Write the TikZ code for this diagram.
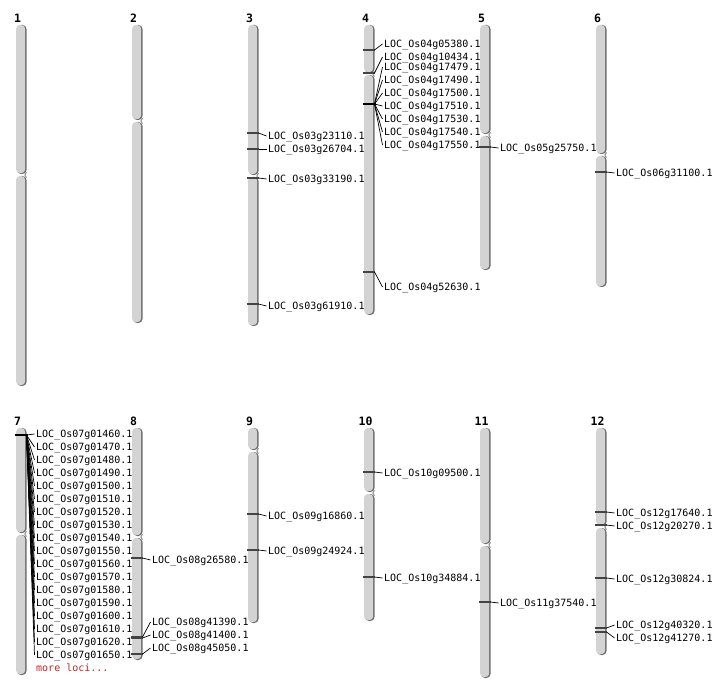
\documentclass[tikz,border=0pt]{standalone}
\usepackage{fontspec}
\newfontfamily\monofont{DejaVu Sans Mono}
\definecolor{chrbody}{HTML}{D3D3D3}
\definecolor{chrshade}{HTML}{6E6E6E}
\definecolor{mkcol}{HTML}{444444}
\definecolor{morered}{HTML}{CC2222}
\tikzset{
  lbl/.style={font=\monofont\fontsize{10}{12}\selectfont, inner sep=0pt, anchor=west, text height=7.3pt, text depth=0pt},
  chrnum/.style={font=\monofont\bfseries\fontsize{11.5}{13}\selectfont, inner sep=0pt, anchor=base},
  markline/.style={draw=mkcol, line width=1.3pt},
  markthick/.style={draw=black, line width=2.6pt},
  conn/.style={draw=black, line width=0.7pt},
}
\newcommand\arm[3]{%
  \fill[chrshade,rounded corners=4pt] (#1+1,#2) rectangle (#1+10.5,#3);
  \fill[chrbody,rounded corners=4pt] (#1,#2) rectangle (#1+9.2,#3-0.8);
}
\newcommand\chr[6]{% number, x, top, cen, bottom, baseline of number
  \arm{#2}{#3}{#4-1}
  \arm{#2}{#4+1}{#5}
  \draw[chrshade,line width=0.7pt] (#2+10.5,#4-2.5) -- (#2+8.8,#4) -- (#2+10.5,#4+2.5);
  \node[chrnum] (chr#1) at (#2+1.5,#6) {#1};
}
\newcommand\mk[4]{% chrom x, marker y, label y, suffix
  \draw[markline] (#1-1.5,#2) -- (#1+10.5,#2) coordinate (m#4);
  \node[lbl] (L#4) at (#1+20,#3) {LOC\_Os#4.1};
  \draw[conn] (m#4) -- ([xshift=-1.5pt]L#4.west);
}
\newcommand\fan[3]{% cluster coordinate, label y, suffix ; chrom x as #1 of cluster
  \node[lbl] (L#3) at (#1,#2) {LOC\_Os#3.1};
  \draw[conn] (cl) -- ([xshift=-1.5pt]L#3.west);
}
\begin{document}
\begin{tikzpicture}[x=1pt,y=-1pt]
\useasboundingbox (0,0) rectangle (712,700);
% ---------- top row ----------
\chr{1}{16}{25}{175}{386}{22.7}
\chr{2}{132}{25}{121}{323}{22.7}
\chr{3}{248}{25}{176}{326}{22.7}
\chr{4}{364}{25}{74}{315}{22.7}
\chr{5}{480}{25}{135}{270}{22.7}
\chr{6}{596}{25}{155}{287}{22.7}
% ---------- bottom row ----------
\chr{7}{16}{428}{534}{675}{425}
\chr{8}{132}{428}{537}{660}{425}
\chr{9}{248}{428}{451}{623}{425}
\chr{10}{364}{428}{493}{621}{425}
\chr{11}{480}{428}{545}{678}{425}
\chr{12}{596}{428}{527}{655}{425}
% ---------- chr3 ----------
\mk{248}{133}{136}{03g23110}
\mk{248}{149}{149}{03g26704}
\mk{248}{178}{179}{03g33190}
\mk{248}{304}{306}{03g61910}
% ---------- chr4 ----------
\mk{364}{50}{44}{04g05380}
\mk{364}{73}{57}{04g10434}
\draw[markthick] (362.5,104) -- (376,104);
\coordinate (cl) at (374.5,104);
\foreach \s/\yy in {17479/67,17490/80,17500/93,17510/106,17530/119,17540/132,17550/145}{
  \node[lbl] (L04g\s) at (384,\yy) {LOC\_Os04g\s.1};
  \draw[conn] (cl) -- ([xshift=-1.5pt]L04g\s.west);
}
\mk{364}{272}{287}{04g52630}
% ---------- chr5, chr6 ----------
\mk{480}{147}{148}{05g25750}
\mk{596}{172}{173}{06g31100}
% ---------- chr7 ----------
\draw[markthick] (14.5,435) -- (28,435);
\coordinate (cl7) at (26.5,435);
\foreach \s [count=\i from 0] in {01460,01470,01480,01490,01500,01510,01520,01530,01540,01550,01560,01570,01580,01590,01600,01610,01620,01650}{
  \node[lbl] (L07g\s) at (36,434+13*\i) {LOC\_Os07g\s.1};
  \draw[conn] (cl7) -- ([xshift=-1.5pt]L07g\s.west);
}
\node[lbl, text=morered] (more) at (36,668) {more loci...};
% ---------- chr8 ----------
\mk{132}{558}{560}{08g26580}
\mk{132}{637}{622}{08g41390}
\mk{132}{638}{635}{08g41400}
\mk{132}{654}{648}{08g45050}
% ---------- chr9 ----------
\mk{248}{514}{516}{09g16860}
\mk{248}{550}{551}{09g24924}
% ---------- chr10 ----------
\mk{364}{472}{473}{10g09500}
\mk{364}{577}{578}{10g34884}
% ---------- chr11 ----------
\mk{480}{602}{603}{11g37540}
% ---------- chr12 ----------
\mk{596}{512}{513}{12g17640}
\mk{596}{525}{526}{12g20270}
\mk{596}{578}{579}{12g30824}
\mk{596}{628}{625}{12g40320}
\mk{596}{632}{638}{12g41270}
\end{tikzpicture}
\end{document}
